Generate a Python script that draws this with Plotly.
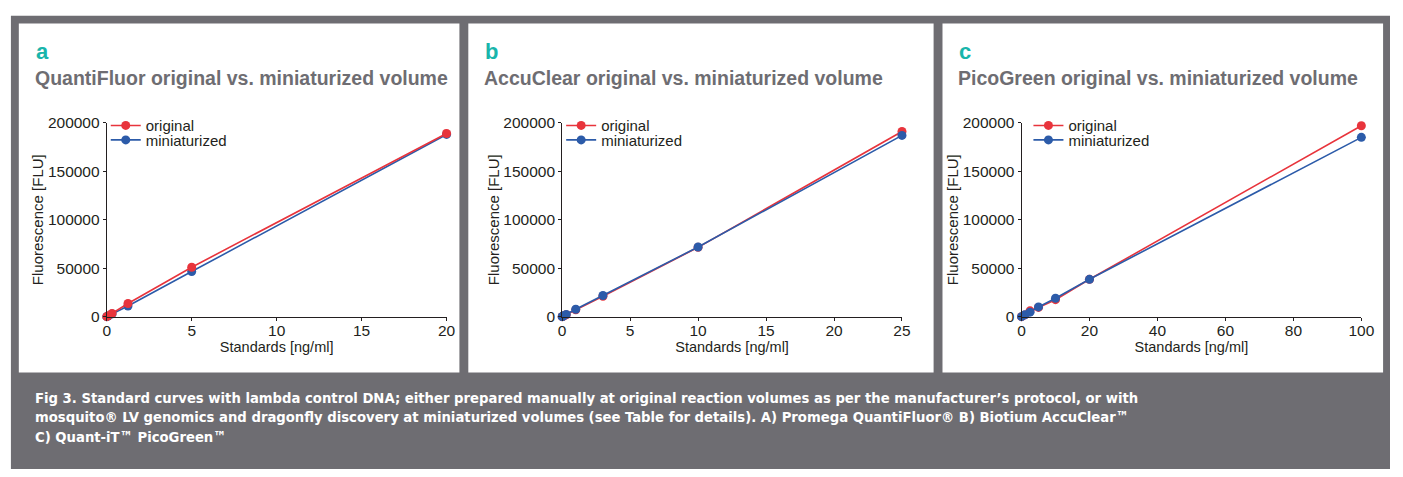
import plotly.graph_objects as go

W, H = 1403, 477

# ---------------- data ----------------
qf_x = [0, 0.078, 0.3125, 1.25, 5, 20]
qf_orig = [0, 800, 3300, 13500, 51000, 189000]
qf_orig_err = [0, 0, 0, 0, 0, 3000]
qf_mini = [0, 700, 2800, 11000, 46500, 188000]

ac_x = [0, 0.03, 0.1, 0.3, 1, 3, 10, 25]
ac_orig = [0, 200, 700, 2000, 7000, 21000, 71500, 191000]
ac_mini = [0, 250, 800, 2300, 7600, 21800, 71800, 187000]

pg_x = [0, 1, 2.5, 5, 10, 20, 100]
pg_orig = [0, 1800, 6000, 9500, 17500, 38500, 197000]
pg_mini = [0, 2000, 4600, 10000, 19000, 38500, 185000]

panel_letters = ["a", "b", "c"]
panel_titles = ["QuantiFluor original vs. miniaturized volume",
                "AccuClear original vs. miniaturized volume",
                "PicoGreen original vs. miniaturized volume"]
series_names = ["original", "miniaturized"]
x_ranges = [[0, 20], [0, 25], [0, 100]]
x_ticks = [[0, 5, 10, 15, 20], [0, 5, 10, 15, 20, 25], [0, 20, 40, 60, 80, 100]]
y_ticks = [0, 50000, 100000, 150000, 200000]
caption_lines = [
    "Fig 3. Standard curves with lambda control DNA; either prepared manually at original reaction volumes as per the manufacturer\u2019s protocol, or with",
    "mosquito\u00ae LV genomics and dragonfly discovery at miniaturized volumes (see Table for details). A) Promega QuantiFluor\u00ae B) Biotium AccuClear\u2122",
    "C) Quant-iT\u2122 PicoGreen\u2122",
]

# ---------------- style ----------------
RED = "#e8343c"
BLUE = "#2c5ba9"
GRAY = "#6e6d72"
TEAL = "#19b5ab"
TXT = "#231f20"
FONT = "Liberation Sans, Arial, sans-serif"

def px(x):
    return x / W

def py(y):
    return 1 - y / H

panels_px = [(15, 461), (470, 941), (950, 1396)]
plot_px = [(104, 448), (565, 909), (1030, 1374)]
legend_px = [103, 564, 1037]
legend_y = [121, 136]
Y0, Y1 = 319, 118

fig = go.Figure()

datasets = [
    (qf_x, qf_orig, qf_mini, qf_orig_err),
    (ac_x, ac_orig, ac_mini, None),
    (pg_x, pg_orig, pg_mini, None),
]

shapes = [dict(type="rect", xref="paper", yref="paper", x0=px(7), x1=1.0, y0=0, y1=py(7),
               fillcolor=GRAY, line=dict(width=0), layer="below")]
annotations = []
layout_upd = {}

for i, (xs, yo, ym, err) in enumerate(datasets):
    n = "" if i == 0 else str(i + 1)
    leg_o = "legend" if i == 0 else f"legend{2*i+1}"
    leg_m = f"legend{2*i+2}"
    xa = f"x{n}"
    ya = f"y{n}"
    orig = go.Scatter(x=xs, y=yo, name=series_names[0], mode="lines+markers",
                      line=dict(color=RED, width=1.6), marker=dict(color=RED, size=9),
                      xaxis=xa, yaxis=ya, legend=leg_o, cliponaxis=False,
                      error_y=(dict(type="data", array=err, color=RED, thickness=1.5, width=3)
                               if err else None))
    mini = go.Scatter(x=xs, y=ym, name=series_names[1], mode="lines+markers",
                      line=dict(color=BLUE, width=1.6), marker=dict(color=BLUE, size=9),
                      xaxis=xa, yaxis=ya, legend=leg_m, cliponaxis=False)
    if i == 0:
        fig.add_trace(mini)
        fig.add_trace(orig)
    else:
        fig.add_trace(orig)
        fig.add_trace(mini)

    p0, p1 = panels_px[i]
    shapes.append(dict(type="rect", xref="paper", yref="paper", x0=px(p0), x1=px(p1),
                       y0=py(377), y1=py(15), fillcolor="white", line=dict(width=0),
                       layer="below"))
    annotations.append(dict(text=f"<b>{panel_letters[i]}</b>", xref="paper", yref="paper",
                            x=px(p0 + 15), y=py(44), xanchor="left", yanchor="middle",
                            showarrow=False, font=dict(family=FONT, size=22, color=TEAL)))
    annotations.append(dict(text=f"<b>{panel_titles[i]}</b>", xref="paper", yref="paper",
                            x=px(p0 + 14), y=py(72), xanchor="left", yanchor="middle",
                            showarrow=False, font=dict(family=FONT, size=19.5, color=GRAY)))

    a0, a1 = plot_px[i]
    axcommon = dict(showgrid=False, zeroline=False, showline=True, linecolor=TXT, linewidth=1,
                    ticks="outside", ticklen=3, tickcolor=TXT, tickwidth=1,
                    tickfont=dict(family=FONT, size=15.5, color=TXT))
    layout_upd[f"xaxis{n}"] = dict(domain=[px(a0), px(a1)], range=x_ranges[i],
                                   tickvals=x_ticks[i], anchor=ya, ticklabelstandoff=-3,
                                   title=dict(text="Standards [ng/ml]", standoff=2,
                                              font=dict(family=FONT, size=14.5, color=TXT)),
                                   **axcommon)
    layout_upd[f"yaxis{n}"] = dict(domain=[py(Y0), py(Y1)], range=[0, 200000], tickvals=y_ticks,
                                   ticktext=[str(v) for v in y_ticks], anchor=xa,
                                   title=dict(text="Fluorescence [FLU]", standoff=0,
                                              font=dict(family=FONT, size=15, color=TXT)),
                                   **axcommon)
    for leg, ly in ((leg_o, legend_y[0]), (leg_m, legend_y[1])):
        layout_upd[leg] = dict(x=px(legend_px[i]), y=py(ly), xanchor="left", yanchor="middle",
                               bgcolor="rgba(0,0,0,0)", font=dict(family=FONT, size=15, color=TXT),
                               itemwidth=30)

for k, line in enumerate(caption_lines):
    annotations.append(dict(text=f"<b>{line}</b>", xref="paper", yref="paper",
                            x=px(29), y=py(403 + 20 * k), xanchor="left", yanchor="middle",
                            align="left", showarrow=False,
                            font=dict(family="Liberation Sans Narrow, DejaVu Sans Condensed, sans-serif",
                                      size=14.7, color="white")))

fig.update_layout(**layout_upd)
fig.update_layout(autosize=True, margin=dict(l=0, r=0, t=0, b=0),
                  paper_bgcolor="white", plot_bgcolor="rgba(0,0,0,0)",
                  shapes=shapes, annotations=annotations, showlegend=True)

fig.write_html(
    "out.html",
    default_width="100vw",
    default_height="100vh",
    config={"displayModeBar": False, "responsive": True},
    post_script=("document.documentElement.style.margin='0';"
                 "document.body.style.margin='0';"
                 "document.body.style.overflow='hidden';"
                 "var d=document.getElementById('{plot_id}');"
                 "d.style.position='fixed';d.style.left='0px';d.style.top='0px';"
                 "Plotly.Plots.resize(d);"),
)
